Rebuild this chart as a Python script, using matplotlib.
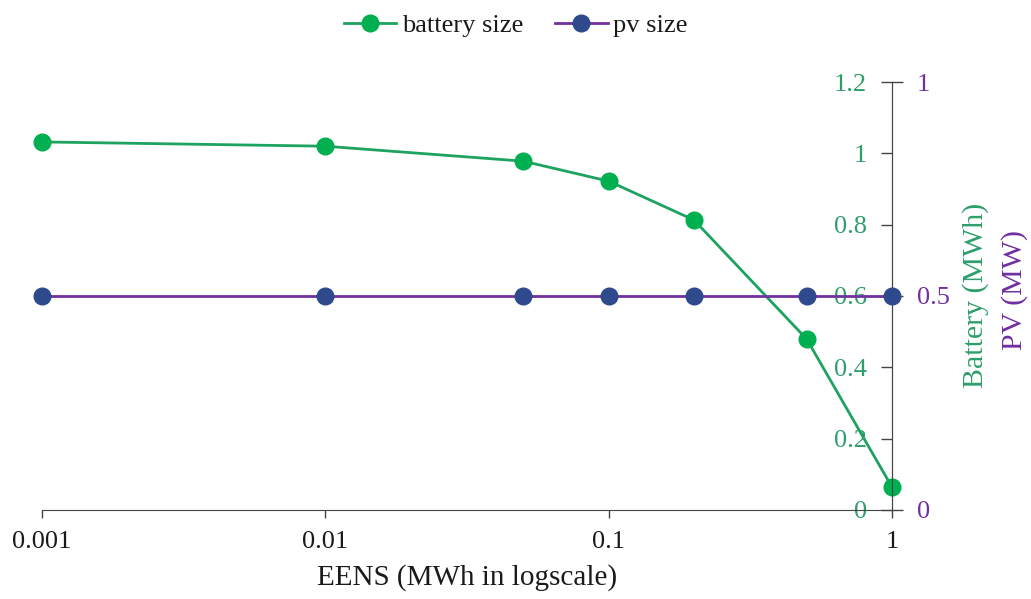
import matplotlib.pyplot as plt

plt.rcParams['font.family'] = ['Liberation Serif', 'DejaVu Serif']

# data
eens = [0.001, 0.01, 0.05, 0.1, 0.2, 0.5, 1]
battery = [1.032, 1.020, 0.978, 0.922, 0.813, 0.479, 0.064]
pv = [0.5, 0.5, 0.5, 0.5, 0.5, 0.5, 0.5]

x_ticks = [0.001, 0.01, 0.1, 1]
x_labels = ['0.001', '0.01', '0.1', '1']
bat_ticks = [0, 0.2, 0.4, 0.6, 0.8, 1.0, 1.2]
bat_labels = ['0', '0.2', '0.4', '0.6', '0.8', '1', '1.2']
pv_ticks = [0, 0.5, 1]
pv_labels = ['0', '0.5', '1']

green = '#00B050'
green_txt = '#2E9E6B'
purple = '#7030A0'
navy = '#2F4A8C'

fig = plt.figure(figsize=(10.31, 5.99), dpi=100)
ax = fig.add_axes([0.0407, 0.1486, 0.8245, 0.7145])
ax2 = ax.twinx()

l1, = ax.plot(eens, battery, color='#1DA35F', lw=2.0, marker='o', ms=12,
              mfc=green, mec=green, clip_on=False, zorder=3, label='battery size')
l2, = ax2.plot(eens, pv, color=purple, lw=2.0, marker='o', ms=12,
               mfc=navy, mec=navy, clip_on=False, zorder=3, label='pv size')

ax.set_xscale('log')
ax.set_xlim(0.001, 1)
ax.set_xticks(x_ticks)
ax.set_xticklabels(x_labels)
ax.xaxis.set_minor_locator(plt.NullLocator())
ax.tick_params(axis='x', direction='out', length=6, width=1, colors='#444444',
               labelcolor='#1a1a1a', labelsize=19, pad=9)

# battery axis: spine moved to the right edge, labels on its left side
ax.set_ylim(0, 1.2)
ax.spines['left'].set_position(('axes', 1.0))
ax.set_yticks(bat_ticks)
ax.set_yticklabels(bat_labels)
ax.tick_params(axis='y', direction='out', length=8, width=1, colors='#444444',
               labelcolor=green_txt, labelsize=19, pad=10)

ax2.set_ylim(0, 1)
ax2.set_yticks(pv_ticks)
ax2.set_yticklabels(pv_labels)
ax2.tick_params(axis='y', direction='out', length=8, width=1, colors='#444444',
                labelcolor=purple, labelsize=19, pad=10)

for a in (ax, ax2):
    a.spines['top'].set_visible(False)
    for s in a.spines.values():
        s.set_color('#444444')
ax2.spines['left'].set_visible(False)
ax.spines['right'].set_visible(False)
ax2.spines['bottom'].set_visible(False)

ax.set_xlabel('EENS (MWh in logscale)', fontsize=21, labelpad=8, color='#1a1a1a')

fig.text(0.946, 0.507, 'Battery (MWh)', rotation=90, color=green_txt,
         fontsize=21.5, ha='center', va='center')
fig.text(0.984, 0.516, 'PV (MW)', rotation=90, color=purple,
         fontsize=21.5, ha='center', va='center')

fig.legend(handles=[l1, l2], loc='center', bbox_to_anchor=(0.5, 0.958),
           ncol=2, frameon=False, fontsize=19, handlelength=2.0,
           columnspacing=1.2, handletextpad=0.2, labelcolor='#1a1a1a')

fig.savefig('out.png', dpi=100)
